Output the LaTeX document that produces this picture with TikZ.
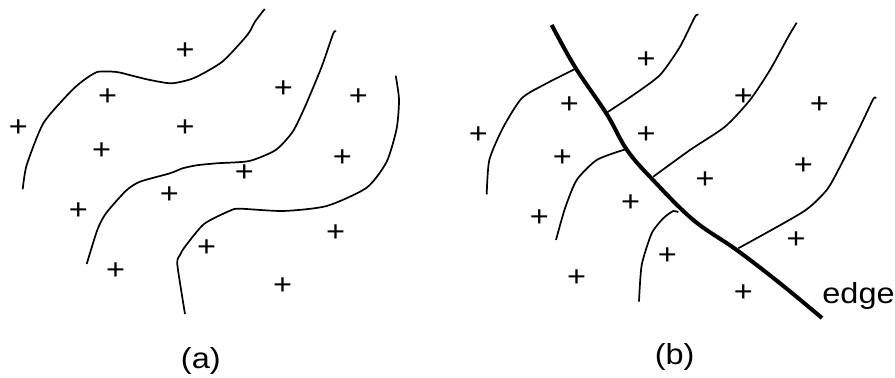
\documentclass[tikz,border=0pt]{standalone}
\usepackage{fontspec}
\setmainfont{Liberation Sans}
\newfontfamily\labelfont[FakeStretch=1.12]{Liberation Sans}
\usepackage{tikz}
\usetikzlibrary{positioning}
\tikzset{
  contour/.style={line width=0.85pt, line join=round},
  edgeline/.style={line width=2pt, line join=round},
  sample/.style={inner sep=0pt, font=\labelfont\fontsize{14.5}{17}\selectfont},
  caption/.style={inner sep=0pt, font=\labelfont\fontsize{14.5}{17}\selectfont}
}

\begin{document}
\begin{tikzpicture}[x=0.5pt, y=-0.5pt]
        \useasboundingbox (0,0) rectangle (895,378);
        % (a) contours
        \draw[contour] plot[smooth, tension=0.4] coordinates {(264.7,9) (255,21.7) (247.3,35) (222.3,61.7) (194,78) (171.7,83.3) (150,80) (133.3,76) (116.7,72) (97.3,72) (81.7,81.7) (69,93.3) (43.3,123.3) (26.7,165) (22.7,189.3)};
        \draw[contour] plot[smooth, tension=0.4] coordinates {(336,31.7) (333.3,33.3) (321.7,66.7) (305,106.7) (292.7,131.7) (275.7,150) (249.3,161) (216.7,163.3) (196.7,165.3) (182.7,168.3) (170,173.3) (140,181.7) (126,190.7) (106,213.3) (97.3,230) (86.7,264)};
        \draw[contour] plot[smooth, tension=0.4] coordinates {(395.7,75.7) (399,99.3) (396.7,128.3) (386.7,161.7) (366.7,187.7) (326.7,206) (283.3,211) (240,208.7) (230,210.7) (204,224) (185,246.7) (180,255) (177.3,264.3) (185,314)};
        \foreach \x/\y [count=\i] in {185/51, 107.7/96.7, 18.3/127.7, 185/127.7, 101.7/150.7, 283.3/89.3, 358.3/96.7, 342.3/158.3, 244.3/172.7, 169.3/195, 78.3/211, 335.7/232.7, 206.7/248.3, 115.7/270.7, 282.7/286}
            \node[sample] (pa\i) at (\x,\y) {+};
        \node[caption] (capa) at (200.8,360.8) {(a)};
        % (b) contours cut by the edge
        \draw[edgeline] plot[smooth, tension=0.6] coordinates {(551.7,25) (575,67) (606.7,114) (627,150) (653,180) (693.3,220) (736.7,250) (780,283.3) (822,318)};
        \draw[contour] plot[smooth, tension=0.4] coordinates {(575,69) (546.7,83.3) (521.7,98.3) (502.7,128.3) (489.3,160) (486.7,194.3)};
        \draw[contour] plot[smooth, tension=0.4] coordinates {(606.7,112.7) (633.3,95) (660,75) (680,46.7) (695,16.7) (698.3,15)};
        \draw[contour] plot[smooth, tension=0.4] coordinates {(625,150.7) (623.3,150) (596.7,160) (576.7,180) (565,208.3) (556,240)};
        \draw[contour] plot[smooth, tension=0.4] coordinates {(653.3,176.7) (690,150) (725,126.7) (750,100) (770,70) (788.3,36.7) (796.7,22.7)};
        \draw[contour] plot[smooth, tension=0.4] coordinates {(678.3,212.3) (673.3,211) (663.3,218.3) (651.7,233.3) (641.7,265) (639,301.7)};
        \draw[contour] plot[smooth, tension=0.4] coordinates {(738.3,248.3) (803.3,211.7) (826.7,190) (840,166.7) (860,126.7) (873.3,99) (876,98.3)};
        \foreach \x/\y [count=\i] in {646/60, 569.3/105, 478.3/135, 646/135, 562.3/158.3, 743.3/96.7, 819.3/105, 803.3/165.7, 705/180, 630.7/202.7, 539.3/218.3, 796/240, 667.3/256, 576.7/278.3, 743.3/293.3}
            \node[sample] (pb\i) at (\x,\y) {+};
        \node[caption, anchor=base west] (edgelabel) at (822,304) {edge};
        \node[caption] (capb) at (674.7,356.7) {(b)};
\end{tikzpicture}
\end{document}
